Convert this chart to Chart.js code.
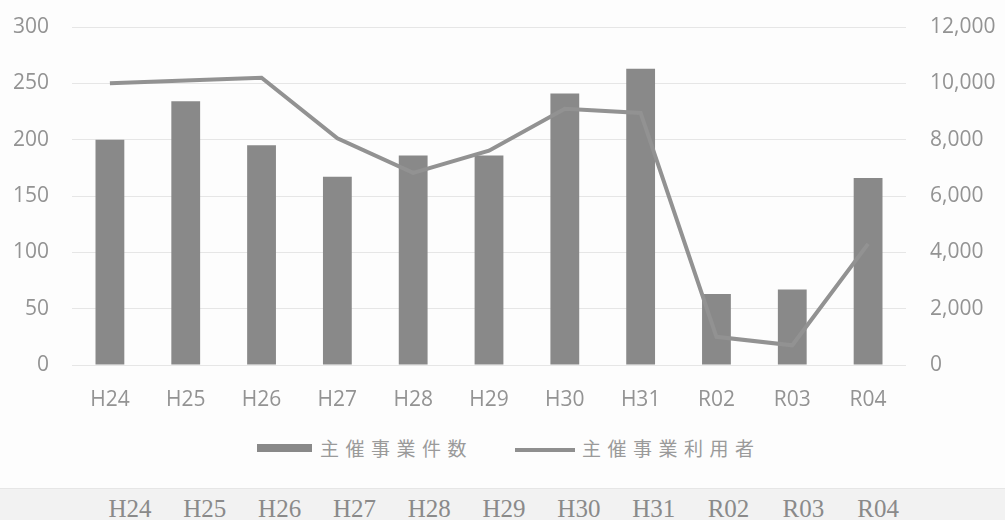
<!DOCTYPE html>
<html>
<head>
<meta charset="utf-8">
<script src="https://cdn.jsdelivr.net/npm/chart.js@4.4.0/dist/chart.umd.min.js"></script>
<style>
  body { margin: 0; width: 1005px; height: 520px; overflow: hidden; position: relative; background: #fdfdfd; }
  #wrap { position: absolute; left: 0; top: 0; width: 1005px; height: 430px; }
  .lg { position: absolute; font-family: "Noto Sans CJK JP", sans-serif; font-size: 19px; line-height: 19px; color: #9a9a9a; letter-spacing: 6.5px; white-space: nowrap; }
  .sw { position: absolute; }
  #band { position: absolute; left: 0; top: 488px; width: 1005px; height: 32px; background: #f2f2f2; border-top: 1px solid #e6e6e6; }
  #row { position: absolute; left: 92.6px; top: 495.6px; width: 823px; display: flex; font-family: "Liberation Serif", serif; font-size: 25px; line-height: 25px; color: #8a8a8a; }
  #row span { flex: 1; text-align: center; }
</style>
</head>
<body>
<div id="wrap"><canvas id="grafico"></canvas></div>

<div class="sw" style="left:257px;top:444px;width:55px;height:8px;background:#898989"></div>
<div class="lg" style="left:320px;top:438px">主催事業件数</div>
<div class="sw" style="left:515px;top:448px;width:60px;height:4px;background:#8f8f8f"></div>
<div class="lg" style="left:582px;top:438px">主催事業利用者</div>

<div id="band"></div>
<div id="row"></div>

<script>
// data
var categories = ['H24', 'H25', 'H26', 'H27', 'H28', 'H29', 'H30', 'H31', 'R02', 'R03', 'R04'];
var eventCounts = [200, 234, 195, 167, 186, 186, 241, 263, 63, 67, 166];
var eventUsers = [10000, 10100, 10200, 8050, 6820, 7610, 9100, 8950, 1000, 700, 4300];
var leftTicks = [0, 50, 100, 150, 200, 250, 300];
var rightTicks = [0, 2000, 4000, 6000, 8000, 10000, 12000];

var barColor = '#898989';
var lineColor = '#929292';
var textColor = '#939393';

// bottom table row
var row = document.getElementById('row');
for (var i = 0; i < categories.length; i++) {
  var s = document.createElement('span');
  s.textContent = categories[i];
  row.appendChild(s);
}

var tickFont = { family: '"Open Sans", sans-serif', size: 21 };

// keep tick padding from pushing the plot area down
function fixY(width) {
  return function (s) {
    s.width = width;
    s.paddingTop = 12;
    s.paddingBottom = 12;
  };
}

var ctx = document.getElementById('grafico').getContext('2d');
var grafico = new Chart(ctx, {
  type: 'bar',
  data: {
    labels: categories,
    datasets: [{
      type: 'line',
      label: '主催事業利用者',
      data: eventUsers,
      yAxisID: 'y1',
      borderColor: lineColor,
      borderWidth: 4,
      pointRadius: 0,
      tension: 0,
      order: 0
    }, {
      type: 'bar',
      label: '主催事業件数',
      data: eventCounts,
      yAxisID: 'y',
      backgroundColor: barColor,
      barPercentage: 0.38,
      categoryPercentage: 1,
      order: 1
    }]
  },
  options: {
    responsive: true,
    maintainAspectRatio: false,
    animation: false,
    layout: { padding: { top: 27, left: 0, right: 0, bottom: 0 } },
    plugins: { legend: { display: false }, tooltip: { enabled: false } },
    scales: {
      x: {
        offset: true,
        grid: { display: false },
        border: { display: false },
        ticks: { font: tickFont, color: textColor, padding: 14 },
        afterFit: function (s) { s.height = 65; }
      },
      y: {
        position: 'left',
        min: 0,
        max: 300,
        afterBuildTicks: function (s) { s.ticks = leftTicks.map(function (v) { return { value: v }; }); },
        grid: { color: '#e6e6e6', lineWidth: 1, drawTicks: false },
        border: { display: false },
        ticks: { font: tickFont, color: textColor, padding: 23 },
        afterFit: fixY(72)
      },
      y1: {
        position: 'right',
        min: 0,
        max: 12000,
        afterBuildTicks: function (s) { s.ticks = rightTicks.map(function (v) { return { value: v }; }); },
        grid: { display: false, drawTicks: false },
        border: { display: false },
        ticks: {
          font: tickFont, color: textColor, padding: 24,
          callback: function (v) { return v.toLocaleString('en-US'); }
        },
        afterFit: fixY(99)
      }
    }
  }
});
</script>
</body>
</html>
